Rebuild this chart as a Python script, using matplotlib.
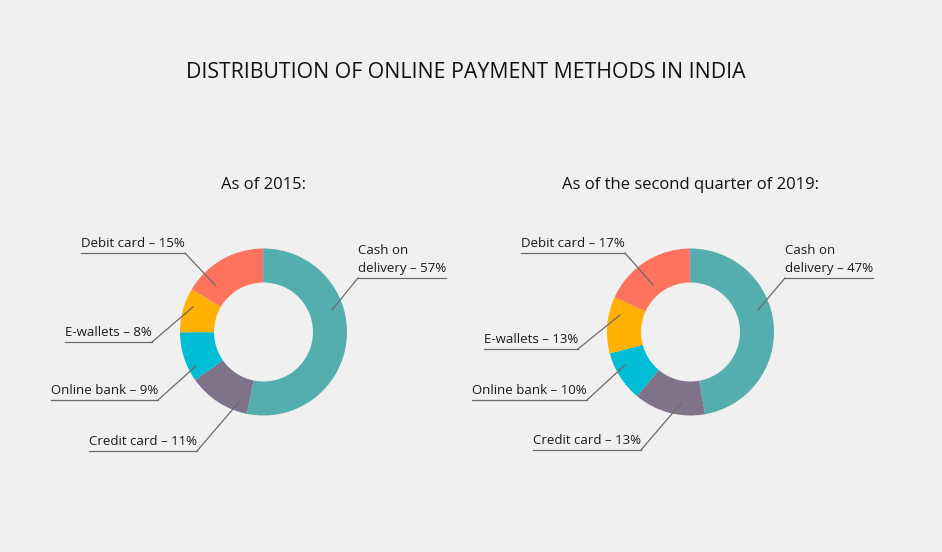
"""Two donut charts: online payment methods in India, 2015 vs Q2 2019."""
import matplotlib
matplotlib.use("Agg")
import matplotlib.pyplot as plt

W, H = 942, 552

methods = ["Cash on\ndelivery", "Credit card", "Online bank", "E-wallets", "Debit card"]
# percentages printed in the labels
label_2015 = [57, 11, 9, 8, 15]
label_2019 = [47, 13, 10, 13, 17]
# slice sizes as actually drawn in the source graphic (measured off the arcs)
slice_2015 = [53.3, 12.1, 9.7, 8.6, 16.3]
slice_2019 = [47.3, 13.9, 9.8, 11.0, 18.0]
sliver = 0.2  # hairline purple slice at 12 o'clock, unlabelled

colors = ["#55AEAE", "#7F7389", "#00BCD4", "#FFB000", "#FF735E"]
sliver_color = "#7F6A9E"

BG = "#F0F0F0"
LINE = "#6B6B6B"
FONT = ["Open Sans", "DejaVu Sans"]

plt.rcParams["font.family"] = FONT

fig = plt.figure(figsize=(W / 100, H / 100), dpi=100, facecolor=BG)
ax = fig.add_axes([0, 0, 1, 1])
ax.set_facecolor(BG)


def py(y):
    # pixel row (from top) -> data y
    return H - y


# per-chart layout: centre and leader lines (elbow x, underline y, tip x, tip y, side)
charts = [
    dict(title="As of 2015:", cx=263.5, cy=332, slices=slice_2015, labels=label_2015,
         leaders=[(358, 278, 332, 310, "r"),
                  (197, 451, 239, 402, "l"),
                  (158, 400, 196, 366, "l"),
                  (152, 342, 193, 307, "l"),
                  (185, 253, 215, 285, "l")]),
    dict(title="As of the second quarter of 2019:", cx=690.5, cy=332,
         slices=slice_2019, labels=label_2019,
         leaders=[(785, 278, 758, 310, "r"),
                  (641, 450, 682, 402, "l"),
                  (587, 400, 625, 365, "l"),
                  (578, 349, 620, 315, "l"),
                  (625, 253, 653, 285, "l")]),
]
R_OUT, R_IN = 83.5, 49.5

texts = []
for ch in charts:
    vals = list(ch["slices"]) + [sliver]
    cols = list(colors) + [sliver_color]
    ax.pie(vals, colors=cols, radius=R_OUT, center=(ch["cx"], py(ch["cy"])),
           startangle=90, counterclock=False,
           wedgeprops=dict(width=R_OUT - R_IN, linewidth=0))
    ax.text(ch["cx"], py(185), ch["title"], ha="center", va="center",
            fontsize=12, color="#111111")
    for name, v, (ex, uy, tx, ty, side) in zip(methods, ch["labels"], ch["leaders"]):
        label = f"{name} – {v}%"
        ax.plot([ex, tx], [py(uy), py(ty)], color=LINE, lw=0.9)
        t = ax.text(ex, py(uy - 3), label, ha="left" if side == "r" else "right",
                    va="bottom", fontsize=9.5, color="#1A1A1A", linespacing=1.5)
        texts.append((t, ex, uy, side))

ax.text(W / 2 - 5, py(72), "DISTRIBUTION OF ONLINE PAYMENT METHODS IN INDIA",
        ha="center", va="center", fontsize=15.3, color="#111111")

ax.set_xlim(0, W)
ax.set_ylim(0, H)
ax.set_aspect("equal")
ax.axis("off")

# underline each label across its own width
fig.canvas.draw()
renderer = fig.canvas.get_renderer()
inv = ax.transData.inverted()
for t, ex, uy, side in texts:
    bb = t.get_window_extent(renderer)
    x0 = inv.transform((bb.x0, bb.y0))[0]
    x1 = inv.transform((bb.x1, bb.y0))[0]
    if side == "r":
        ax.plot([ex, x1], [py(uy), py(uy)], color=LINE, lw=0.9)
    else:
        ax.plot([x0, ex], [py(uy), py(uy)], color=LINE, lw=0.9)

fig.savefig("out.png", dpi=100, facecolor=BG)
